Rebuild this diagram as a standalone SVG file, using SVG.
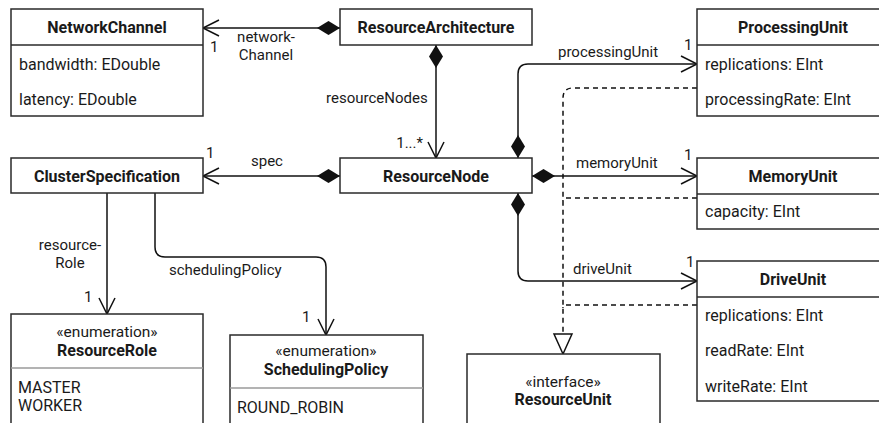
<svg xmlns="http://www.w3.org/2000/svg" width="879" height="423" viewBox="0 0 879 423">
  <style>
    .box { fill: #ffffff; stroke: #2a2a2a; stroke-width: 1.5; }
    .div { stroke: #2a2a2a; stroke-width: 1.5; }
    .ediv { stroke: #9a9a9a; stroke-width: 1.5; }
    text { font-family: Roboto, "Liberation Sans", sans-serif; fill: #1a1a1a; }
    .name { font-size: 16px; font-weight: bold; text-anchor: middle; }
    .attr { font-size: 16px; }
    .stereo { font-size: 15.5px; text-anchor: middle; }
    .lbl { font-size: 15px; }
    .mid { text-anchor: middle; }
    .end { text-anchor: end; }
    .edge { fill: none; stroke: #111111; stroke-width: 1.5; }
    .dash { stroke-dasharray: 5 4; }
  </style>
  <defs>
    <marker id="open" markerUnits="userSpaceOnUse" markerWidth="20" markerHeight="20" viewBox="-18 -10 20 20" refX="0" refY="0" orient="auto">
      <path d="M-16,-8 L0,0 L-16,8" fill="none" stroke="#111111" stroke-width="1.5"/>
    </marker>
    <marker id="diamond" markerUnits="userSpaceOnUse" markerWidth="26" markerHeight="16" viewBox="0 -8 26 16" refX="0" refY="0" orient="auto">
      <path d="M0,0 L11.5,-7 L23,0 L11.5,7 Z" fill="#111111"/>
    </marker>
    <marker id="realize" markerUnits="userSpaceOnUse" markerWidth="24" markerHeight="24" viewBox="-22 -11 24 22" refX="0" refY="0" orient="auto">
      <path d="M-20,-9 L0,0 L-20,9 Z" fill="#ffffff" stroke="#111111" stroke-width="1.5"/>
    </marker>
  </defs>

  <!-- connectors -->
  <g id="connectors">
    <path class="edge" d="M340,28 L203,28" marker-start="url(#diamond)" marker-end="url(#open)"/>
    <path class="edge" d="M436,45 L436,158" marker-start="url(#diamond)" marker-end="url(#open)"/>
    <path class="edge" d="M340,176 L203,176" marker-start="url(#diamond)" marker-end="url(#open)"/>
    <path class="edge" d="M518,158 L518,74 Q518,64 528,64 L697,64" marker-start="url(#diamond)" marker-end="url(#open)"/>
    <path class="edge" d="M532,176 L697,176" marker-start="url(#diamond)" marker-end="url(#open)"/>
    <path class="edge" d="M518,193 L518,271 Q518,281 528,281 L697,281" marker-start="url(#diamond)" marker-end="url(#open)"/>
    <path class="edge" d="M107,193 L107,314" marker-end="url(#open)"/>
    <path class="edge" d="M155,193 L155,247 Q155,257 165,257 L316,257 Q326,257 326,267 L326,335" marker-end="url(#open)"/>
    <path class="edge dash" d="M697,88 L573,88 Q563,88 563,98 L563,354" marker-end="url(#realize)"/>
    <path class="edge dash" d="M697,198 L566,198 Q563,198 563,201"/>
    <path class="edge dash" d="M697,305 L566,305 Q563,305 563,308"/>

    <text class="lbl mid" x="266" y="42">network-</text>
    <text class="lbl mid" x="266" y="60">Channel</text>
    <text class="lbl" x="210" y="52">1</text>
    <text class="lbl" x="326" y="103">resourceNodes</text>
    <text class="lbl end" x="423" y="148">1...*</text>
    <text class="lbl" x="251" y="166">spec</text>
    <text class="lbl" x="206" y="158">1</text>
    <text class="lbl" x="558" y="57">processingUnit</text>
    <text class="lbl" x="684" y="50">1</text>
    <text class="lbl" x="576" y="168">memoryUnit</text>
    <text class="lbl" x="684" y="160">1</text>
    <text class="lbl" x="573" y="274">driveUnit</text>
    <text class="lbl" x="686" y="267">1</text>
    <text class="lbl mid" x="70" y="250">resource-</text>
    <text class="lbl mid" x="70" y="268">Role</text>
    <text class="lbl" x="84" y="302">1</text>
    <text class="lbl" x="169" y="275">schedulingPolicy</text>
    <text class="lbl" x="302" y="322">1</text>
  </g>

  <g id="NetworkChannel">
    <rect class="box" x="11" y="9" width="192" height="107"/>
    <line class="div" x1="11" y1="45" x2="203" y2="45"/>
    <text class="name" x="107" y="33">NetworkChannel</text>
    <text class="attr" x="19" y="70">bandwidth: EDouble</text>
    <text class="attr" x="19" y="105">latency: EDouble</text>
  </g>

  <g id="ResourceArchitecture">
    <rect class="box" x="340" y="9" width="192" height="36"/>
    <text class="name" x="436" y="33">ResourceArchitecture</text>
  </g>

  <g id="ProcessingUnit">
    <rect class="box" x="697" y="9" width="192" height="107"/>
    <line class="div" x1="697" y1="45" x2="889" y2="45"/>
    <text class="name" x="793" y="33">ProcessingUnit</text>
    <text class="attr" x="705" y="70">replications: EInt</text>
    <text class="attr" x="705" y="105">processingRate: EInt</text>
  </g>

  <g id="ClusterSpecification">
    <rect class="box" x="11" y="158" width="192" height="35"/>
    <text class="name" x="107" y="181.5">ClusterSpecification</text>
  </g>

  <g id="ResourceNode">
    <rect class="box" x="340" y="158" width="192" height="35"/>
    <text class="name" x="436" y="181.5">ResourceNode</text>
  </g>

  <g id="MemoryUnit">
    <rect class="box" x="697" y="158" width="192" height="71"/>
    <line class="div" x1="697" y1="194" x2="889" y2="194"/>
    <text class="name" x="793" y="181.5">MemoryUnit</text>
    <text class="attr" x="705" y="217">capacity: EInt</text>
  </g>

  <g id="DriveUnit">
    <rect class="box" x="697" y="261" width="192" height="140"/>
    <line class="div" x1="697" y1="297" x2="889" y2="297"/>
    <text class="name" x="793" y="284.5">DriveUnit</text>
    <text class="attr" x="705" y="321">replications: EInt</text>
    <text class="attr" x="705" y="356">readRate: EInt</text>
    <text class="attr" x="705" y="392">writeRate: EInt</text>
  </g>

  <g id="ResourceRole">
    <rect class="box" x="11" y="314" width="192" height="120"/>
    <line class="ediv" x1="11" y1="368" x2="203" y2="368"/>
    <text class="stereo" x="107" y="337">«enumeration»</text>
    <text class="name" x="107" y="356">ResourceRole</text>
    <text class="attr" x="18" y="393">MASTER</text>
    <text class="attr" x="18" y="411">WORKER</text>
  </g>

  <g id="SchedulingPolicy">
    <rect class="box" x="230" y="335" width="193" height="100"/>
    <line class="ediv" x1="230" y1="388" x2="423" y2="388"/>
    <text class="stereo" x="326" y="356">«enumeration»</text>
    <text class="name" x="326" y="375">SchedulingPolicy</text>
    <text class="attr" x="237" y="413">ROUND_ROBIN</text>
  </g>

  <g id="ResourceUnit">
    <rect class="box" x="467" y="354" width="193" height="80"/>
    <text class="stereo" x="563" y="387">«interface»</text>
    <text class="name" x="563" y="405">ResourceUnit</text>
  </g>
</svg>
